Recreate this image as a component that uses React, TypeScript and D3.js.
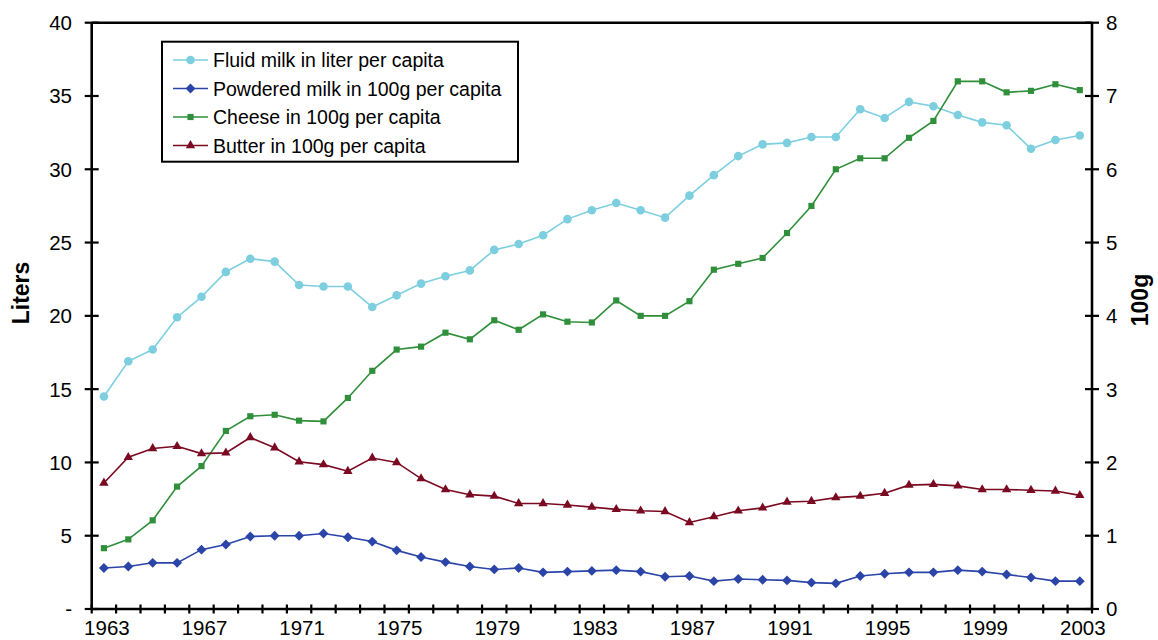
// React
import React from 'react';

// Installed Packages
import * as d3 from 'd3';

// Data
const years = d3.range(1963, 2004);

// Liters per capita (left axis)
const fluidMilk = [
    14.5, 16.9, 17.7, 19.9, 21.3, 23.0, 23.9, 23.7, 22.1, 22.0,
    22.0, 20.6, 21.4, 22.2, 22.7, 23.1, 24.5, 24.9, 25.5, 26.6,
    27.2, 27.7, 27.2, 26.7, 28.2, 29.6, 30.9, 31.7, 31.8, 32.2,
    32.2, 34.1, 33.5, 34.6, 34.3, 33.7, 33.2, 33.0, 31.4, 32.0,
    32.3
];

// 100g per capita (right axis)
const powderedMilk = [
    0.56, 0.58, 0.63, 0.63, 0.81, 0.88, 0.99, 1.0, 1.0, 1.03,
    0.98, 0.92, 0.8, 0.71, 0.64, 0.58, 0.54, 0.56, 0.5, 0.51,
    0.52, 0.53, 0.51, 0.44, 0.45, 0.38, 0.41, 0.4, 0.39, 0.36,
    0.35, 0.45, 0.48, 0.5, 0.5, 0.53, 0.51, 0.47, 0.43, 0.38,
    0.38
];

const cheese = [
    0.83, 0.95, 1.21, 1.67, 1.95, 2.43, 2.63, 2.65, 2.57, 2.56,
    2.88, 3.25, 3.54, 3.58, 3.77, 3.68, 3.94, 3.81, 4.02, 3.92,
    3.91, 4.21, 4.0, 4.0, 4.2, 4.63, 4.71, 4.79, 5.13, 5.5,
    6.0, 6.15, 6.15, 6.43, 6.66, 7.2, 7.2, 7.05, 7.07, 7.16,
    7.08
];

const butter = [
    1.72, 2.07, 2.19, 2.22, 2.12, 2.13, 2.34, 2.2, 2.01, 1.97,
    1.88, 2.06, 2.0, 1.78, 1.63, 1.56, 1.54, 1.44, 1.44, 1.42,
    1.39, 1.36, 1.34, 1.33, 1.18, 1.26, 1.34, 1.38, 1.46, 1.47,
    1.52, 1.54, 1.58, 1.69, 1.7, 1.68, 1.63, 1.63, 1.62, 1.61,
    1.55
];

const leftTicks = [0, 5, 10, 15, 20, 25, 30, 35, 40];
const rightTicks = [0, 1, 2, 3, 4, 5, 6, 7, 8];
const yearLabels = d3.range(1963, 2004, 4);

type Series = {
    name: string,
    values: number[],
    axis: 'left' | 'right',
    color: string,
    marker: 'circle' | 'diamond' | 'square' | 'triangle'
};

const series: Series[] = [
    { name: 'Fluid milk in liter per capita', values: fluidMilk, axis: 'left', color: '#7dcfe0', marker: 'circle' },
    { name: 'Powdered milk in 100g per capita', values: powderedMilk, axis: 'right', color: '#2b44a8', marker: 'diamond' },
    { name: 'Cheese in 100g per capita', values: cheese, axis: 'right', color: '#2f8f3b', marker: 'square' },
    { name: 'Butter in 100g per capita', values: butter, axis: 'right', color: '#7a0a22', marker: 'triangle' },
];

const W = 1158;
const H = 640;
const margin = { top: 22.7, right: 66, bottom: 31, left: 91.7 };
const FONT = '"Liberation Sans", Arial, sans-serif';

function markerPath(m: Series['marker']): string {
    if (m === 'circle') return d3.symbol(d3.symbolCircle, 58)()!;
    if (m === 'diamond') return d3.symbol(d3.symbolSquare, 49)()!;
    if (m === 'square') return d3.symbol(d3.symbolSquare, 38)()!;
    return d3.symbol(d3.symbolTriangle, 38)()!;
}

function Marker(props: { m: Series['marker'], x: number, y: number, color: string }) {
    const rot = props.m === 'diamond' ? ' rotate(45)' : '';
    return <path d={markerPath(props.m)} transform={`translate(${props.x},${props.y})${rot}`} fill={props.color} />;
}

export default function App() {
    const x0 = margin.left;
    const x1 = W - margin.right;
    const yTop = margin.top;
    const yBot = H - margin.bottom;

    const x = d3.scaleBand<number>().domain(years).range([x0, x1]).padding(0);
    const cx = (yr: number) => x(yr)! + x.bandwidth() / 2;
    const yL = d3.scaleLinear().domain([0, 40]).range([yBot, yTop]);
    const yR = d3.scaleLinear().domain([0, 8]).range([yBot, yTop]);

    const boundaries = d3.range(years.length + 1).map(i => x0 + i * x.bandwidth());

    return (
        <svg width={W} height={H} style={{ position: 'absolute', left: 0, top: 0, background: '#fff' }} fontFamily={FONT}>
            {/* series */}
            {series.map(s => {
                const ys = s.axis === 'left' ? yL : yR;
                const line = d3.line<number>().x((_, i) => cx(years[i])).y(v => ys(v));
                return (
                    <g key={s.name}>
                        <path d={line(s.values)!} fill="none" stroke={s.color} strokeWidth={1.6} />
                        {s.values.map((v, i) => (
                            <Marker key={i} m={s.marker} x={cx(years[i])} y={ys(v)} color={s.color} />
                        ))}
                    </g>
                );
            })}

            {/* frame */}
            <line x1={x0} x2={x1} y1={yTop} y2={yTop} stroke="#000" strokeWidth={2.6} />
            <line x1={x0} x2={x0} y1={yTop} y2={yBot} stroke="#000" strokeWidth={2.6} />
            <line x1={x1} x2={x1} y1={yTop} y2={yBot} stroke="#000" strokeWidth={2.6} />
            <line x1={x0} x2={x1} y1={yBot} y2={yBot} stroke="#000" strokeWidth={2.6} />

            {/* left axis */}
            {leftTicks.map(t => (
                <g key={'l' + t}>
                    <line x1={x0 - 7} x2={x0 + 7} y1={yL(t)} y2={yL(t)} stroke="#000" strokeWidth={2.2} />
                    <text x={72} y={yL(t)} dy="0.36em" textAnchor="end" fontSize={20.5}>{t === 0 ? '-' : t}</text>
                </g>
            ))}

            {/* right axis */}
            {rightTicks.map(t => (
                <g key={'r' + t}>
                    <line x1={x1 - 7} x2={x1 + 7} y1={yR(t)} y2={yR(t)} stroke="#000" strokeWidth={2.2} />
                    <text x={x1 + 14} y={yR(t)} dy="0.36em" textAnchor="start" fontSize={20.5}>{t}</text>
                </g>
            ))}

            {/* bottom axis */}
            {boundaries.map((bx, i) => (
                <line key={'b' + i} x1={bx} x2={bx} y1={yBot - 4.5} y2={yBot + 4.5} stroke="#000" strokeWidth={2.2} />
            ))}
            {yearLabels.map(yr => (
                <text key={'y' + yr} x={cx(yr) + 3} y={635} textAnchor="middle" fontSize={20.5}>{yr}</text>
            ))}

            {/* axis titles */}
            <text transform="translate(29,293) rotate(-90)" textAnchor="middle" fontSize={23} fontWeight="bold">Liters</text>
            <text transform="translate(1148,300) rotate(-90)" textAnchor="middle" fontSize={23} fontWeight="bold">100g</text>

            {/* legend */}
            <rect x={162} y={41.7} width={356} height={120} fill="#fff" stroke="#000" strokeWidth={2} />
            {series.map((s, i) => {
                const ly = 60 + i * 28.5;
                return (
                    <g key={'lg' + s.name}>
                        <line x1={173} x2={208} y1={ly} y2={ly} stroke={s.color} strokeWidth={1.6} />
                        <Marker m={s.marker} x={190.5} y={ly} color={s.color} />
                        <text x={213} y={ly} dy="0.36em" fontSize={19.5}>{s.name}</text>
                    </g>
                );
            })}
        </svg>
    );
}
